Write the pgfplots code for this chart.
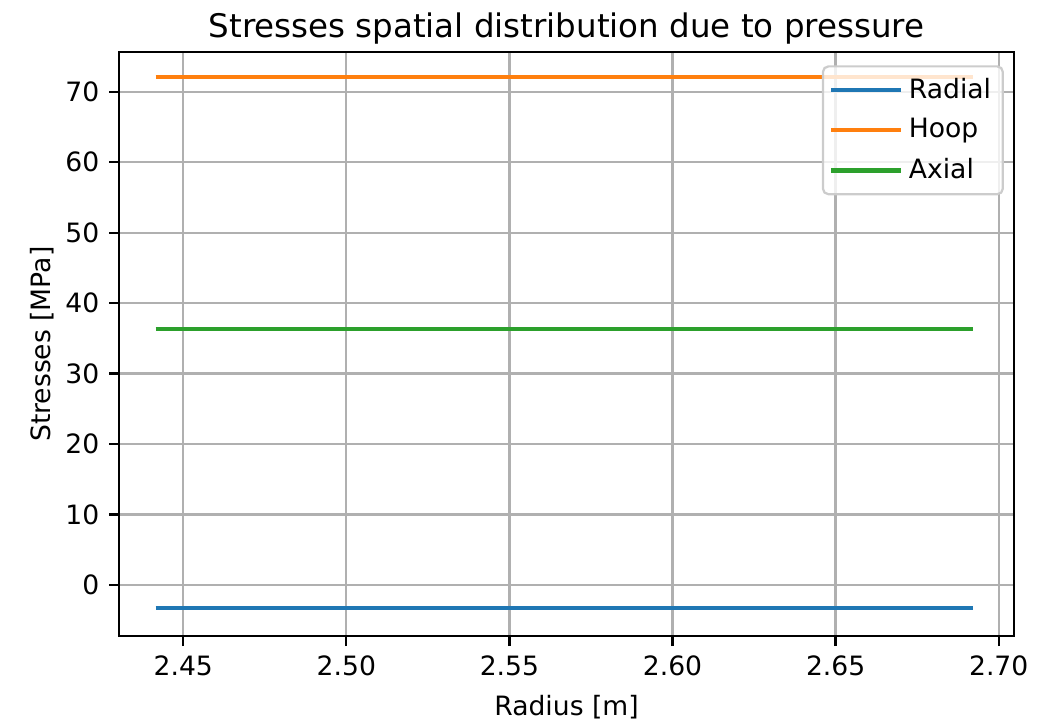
\documentclass[border=0pt]{standalone}
\usepackage{fontspec}
\setmainfont{DejaVu Sans}
\usepackage{pgfplots}
\pgfplotsset{compat=1.18}

\definecolor{mplblue}{HTML}{1F77B4}
\definecolor{mplorange}{HTML}{FF7F0E}
\definecolor{mplgreen}{HTML}{2CA02C}
\definecolor{mplgrid}{HTML}{B0B0B0}
\definecolor{mpllegend}{HTML}{CCCCCC}

\begin{document}
\begin{tikzpicture}
\begin{axis}[
  scale only axis,
  width=319.6pt, height=208.6pt,
  xmin=2.4303, xmax=2.7047,
  ymin=-7.3, ymax=75.64,
  xtick={2.45,2.50,2.55,2.60,2.65,2.70},
  ytick={0,10,20,30,40,50,60,70},
  xticklabel style={/pgf/number format/.cd, fixed, fixed zerofill, precision=2},
  /pgf/number format/assume math mode=true,
  tick label style={font=\fontsize{9.5}{11.4}\selectfont},
  xtick pos=bottom, ytick pos=left,
  tick align=outside,
  major tick length=3.5pt,
  tick style={black, line width=0.8pt},
  axis line style={line width=0.8pt},
  grid=major,
  grid style={mplgrid, line width=0.8pt},
  every axis title shift=0pt,
  title={Stresses spatial distribution due to pressure},
  title style={font=\fontsize{11.6}{13.9}\selectfont, at={(0.5,1)}, anchor=base, yshift=5.3pt, inner sep=0pt},
  xlabel={Radius [m]},
  ylabel={Stresses [MPa]},
  label style={font=\fontsize{9.5}{11.4}\selectfont},
  xlabel style={at={(0.5,0)}, anchor=base, yshift=-28.2pt, inner sep=0pt},
  ylabel style={at={(0,0.5)}, anchor=base, yshift=24.6pt, inner sep=0pt},
  legend cell align=left,
  legend image code/.code={\draw[#1] (0pt,0pt) -- (21pt,0pt); \path (0pt,0pt) -- (25pt,0pt);},
  legend style={
    at={(1,1)}, anchor=north east, xshift=-3.6pt, yshift=-4.7pt,
    font=\fontsize{9.5}{11.4}\selectfont,
    draw=mpllegend, line width=0.8pt, rounded corners=2pt,
    fill=white, fill opacity=0.8, draw opacity=1, text opacity=1,
    inner xsep=2.2pt, inner ysep=2.1pt,
    row sep=1.8pt,
  },
]
\addplot[mplblue, line width=1.5pt] coordinates {
  (2.4415,-3.3) (2.4916,-3.3) (2.5417,-3.3) (2.5918,-3.3) (2.6419,-3.3) (2.6921,-3.3)
};
\addlegendentry{Radial}
\addplot[mplorange, line width=1.5pt] coordinates {
  (2.4415,72.05) (2.4916,72.05) (2.5417,72.05) (2.5918,72.05) (2.6419,72.05) (2.6921,72.05)
};
\addlegendentry{Hoop}
\addplot[mplgreen, line width=1.5pt] coordinates {
  (2.4415,36.3) (2.4916,36.3) (2.5417,36.3) (2.5918,36.3) (2.6419,36.3) (2.6921,36.3)
};
\addlegendentry{Axial}
\end{axis}
\path ([xshift=-42.5pt,yshift=-31.1pt]current axis.south west)
  rectangle ([xshift=13.2pt,yshift=18.6pt]current axis.north east);
\end{tikzpicture}
\end{document}
